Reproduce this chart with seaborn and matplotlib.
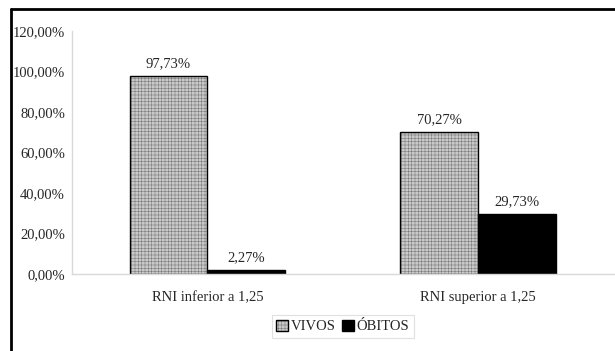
import seaborn as sns
import matplotlib.pyplot as plt
import pandas as pd
import numpy as np
from matplotlib.lines import Line2D

categorias = ['RNI inferior a 1,25', 'RNI superior a 1,25']
vivos = [97.73, 70.27]
obitos = [2.27, 29.73]
series = ['VIVOS', 'ÓBITOS']

data = pd.DataFrame({
    'grupo': categorias * 2,
    'serie': [series[0]] * 2 + [series[1]] * 2,
    'valor': vivos + obitos,
})

sns.set_style('white')
plt.rcParams['font.family'] = ['Liberation Serif', 'DejaVu Serif']
plt.rcParams['hatch.linewidth'] = 0.15
fs = 10.5

fig = plt.figure(figsize=(6.15, 3.51), dpi=100)
ax = fig.add_axes([0.117, 0.219, 0.881, 0.693])

sns.barplot(data=data, x='grupo', y='valor', hue='serie', ax=ax,
            palette=['#c9c9c9', '#000000'], width=0.575, gap=0,
            edgecolor='black', linewidth=1.0, saturation=1)

# textura pontilhada nas barras de VIVOS
for bar in ax.containers[0]:
    bar.set_hatch('+++++')

for cont in ax.containers:
    ax.bar_label(cont, labels=[f'{v:.2f}%'.replace('.', ',') for v in cont.datavalues],
                 padding=4, fontsize=fs)

ax.set_ylim(0, 120)
ax.set_xlim(-0.5, 1.5)
yt = np.arange(0, 121, 20)
ax.set_yticks(yt)
ax.set_yticklabels([f'{v:.2f}%'.replace('.', ',') for v in yt], fontsize=fs)
ax.tick_params(axis='y', length=3, color='#d9d9d9', pad=2)
ax.tick_params(axis='x', length=0, labelsize=fs, pad=12)
ax.set_xticks([0.5], minor=True)
ax.tick_params(axis='x', which='minor', length=4, color='#d9d9d9')
ax.set_xlabel('')
ax.set_ylabel('')
for s in ['top', 'right']:
    ax.spines[s].set_visible(False)
for s in ['left', 'bottom']:
    ax.spines[s].set_color('#d9d9d9')
    ax.spines[s].set_linewidth(1)

leg = ax.legend(loc='center', bbox_to_anchor=(0.5, -0.215), ncol=2, fontsize=fs,
                frameon=True, fancybox=False, handlelength=0.8, handleheight=0.8,
                handletextpad=0.2, columnspacing=0.4, borderpad=0.3)
leg.get_frame().set_edgecolor('#d9d9d9')
leg.get_frame().set_linewidth(0.8)
leg.legend_handles[0].set_hatch('+++++')

# moldura da figura
fig.add_artist(Line2D([11 / 615, 11 / 615], [0, 1 - 9 / 351], color='black', lw=2))
fig.add_artist(Line2D([11 / 615, 1], [1 - 9 / 351, 1 - 9 / 351], color='black', lw=2))

fig.savefig('out.png', dpi=100)
